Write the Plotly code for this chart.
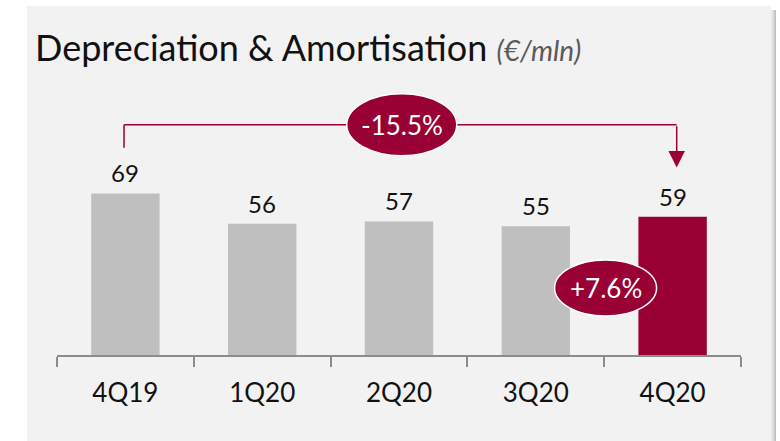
import plotly.graph_objects as go

# Data
quarters = ["4Q19", "1Q20", "2Q20", "3Q20", "4Q20"]
values = [69, 56, 57, 55, 59]
bar_colors = ["#bfbfbf", "#bfbfbf", "#bfbfbf", "#bfbfbf", "#990033"]
yoy_change = "-15.5%"
qoq_change = "+7.6%"

RED = "#990033"
FONT = "Lato"

# Plot-area geometry in pixels (used to place the panel behind the chart)
W, H = 780, 441
L, R, T, B = 57, 39, 6, 86
pw, ph = W - L - R, H - T - B


def px_x(p):
    return (p - L) / pw


def px_y(p):
    return (H - B - p) / ph


fig = go.Figure()

fig.add_trace(go.Bar(
    x=quarters,
    y=values,
    marker=dict(color=bar_colors, line=dict(width=0)),
    cliponaxis=False,
    hoverinfo="skip",
))

shapes = []
# shadow of panel
for i, c in enumerate(["#e6e6e6", "#d9d9d9", "#cccccc", "#bfbfbf"][::-1]):
    shapes.append(dict(type="rect", xref="paper", yref="paper", layer="below",
                       x0=px_x(27), x1=px_x(776 - i), y0=px_y(445), y1=px_y(10),
                       fillcolor=c, line=dict(width=0)))
# light gray panel
shapes.append(dict(type="rect", xref="paper", yref="paper", layer="below",
                   x0=px_x(27), x1=px_x(771), y0=px_y(445), y1=px_y(6),
                   fillcolor="#f2f2f2", line=dict(width=0)))

# bracket from 4Q19 to 4Q20
bracket_y = 98.3
shapes.append(dict(type="line", xref="x", yref="y", x0=-0.01, x1=-0.01,
                   y0=88.5, y1=bracket_y, line=dict(color=RED, width=1.5)))
shapes.append(dict(type="line", xref="x", yref="y", x0=-0.01, x1=4.03,
                   y0=bracket_y, y1=bracket_y, line=dict(color=RED, width=1.5)))

# ellipses
shapes.append(dict(type="circle", xref="x", yref="y", xsizemode="pixel", ysizemode="pixel",
                   xanchor=2.02, yanchor=bracket_y, x0=-55, x1=55, y0=-31, y1=31,
                   fillcolor=RED, line=dict(color="white", width=1.5)))
shapes.append(dict(type="circle", xref="x", yref="y", xsizemode="pixel", ysizemode="pixel",
                   xanchor=3.51, yanchor=28.6, x0=-51, x1=51, y0=-28, y1=28,
                   fillcolor=RED, line=dict(color="white", width=1.5)))

annotations = [
    dict(x=q, y=v, xref="x", yref="y", yanchor="bottom", yshift=4, text=str(v),
         showarrow=False, font=dict(family=FONT, size=24, color="#111111"))
    for q, v in zip(quarters, values)
]
annotations += [
    dict(x=4.03, y=80, ax=4.03, ay=bracket_y, xref="x", yref="y", axref="x", ayref="y",
         text="", showarrow=True, arrowhead=2, arrowsize=2.2, arrowwidth=1.5,
         arrowcolor=RED, standoff=0),
    dict(x=2.02, y=bracket_y, xref="x", yref="y", text=yoy_change, showarrow=False,
         font=dict(family=FONT, size=26, color="white")),
    dict(x=3.51, y=28.6, xref="x", yref="y", text=qoq_change, showarrow=False,
         font=dict(family=FONT, size=26, color="white")),
    dict(x=px_x(33), y=px_y(47), xref="paper", yref="paper", xanchor="left", yanchor="middle",
         text="Depreciation & Amortisation <i><span style='font-size:28px;color:#595959'>(€/mln)</span></i>",
         showarrow=False, font=dict(family=FONT, size=36, color="#111111")),
]

fig.update_layout(
    width=W, height=H,
    margin=dict(l=L, r=R, t=T, b=B),
    paper_bgcolor="white",
    plot_bgcolor="rgba(0,0,0,0)",
    bargap=0.5,
    showlegend=False,
    shapes=shapes,
    annotations=annotations,
    font=dict(family=FONT, color="#111111"),
)
fig.update_xaxes(
    showline=True, linecolor="#8c8c8c", linewidth=1.5,
    ticks="outside", tickson="boundaries", ticklen=10, tickcolor="#8c8c8c", tickwidth=1.5,
    tickfont=dict(family=FONT, size=26, color="#111111"), ticklabelstandoff=14,
    showgrid=False, zeroline=False,
)
fig.update_yaxes(visible=False, range=[0, 149])

fig.write_html("out.html", config={"displayModeBar": False},
               post_script="document.body.style.margin='0';")
